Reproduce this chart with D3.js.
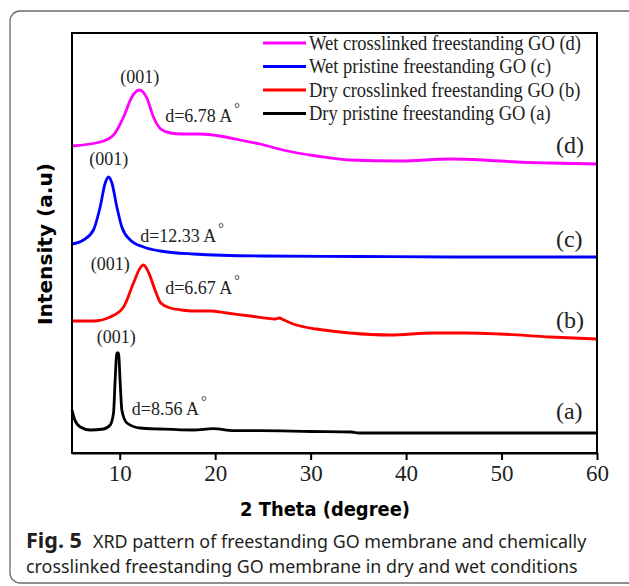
<!DOCTYPE html>
<html>
<head>
<meta charset="utf-8">
<script src="https://cdn.jsdelivr.net/npm/d3@7/dist/d3.min.js"></script>
<style>
body{margin:0;background:#fff}
</style>
</head>
<body>
<script>
// 2 theta (degree) and intensity (a.u., offset per curve)
var thetaA=[5.0,5.3,5.86,6.9,8.3,9.0,9.35,9.52,9.7,9.87,10.05,10.22,10.75,12.14,14.24,17.7,19.8,21.9,24.7,30,34.3,35,40,50,60]
var intA=[43,33,26,23,24,28,40,73,100,100,70,43,30,25,24,23,24.3,22.3,22.3,21.5,21,20,20,20,20]

var thetaB=[5,7.25,9,10.4,11.44,12.14,12.5,13.0,13.7,14.3,15.3,16.5,17.7,19.5,21.2,23.66,26.3,26.7,27.2,28.5,30.6,34.1,38.3,42.8,46.3,49.8,55.1,60]
var intB=[132,132,136,146,170,185,188,181,163,150,145,143,142,142,140,137,134,135,133,128,124,120,118,120,120,119,116,114]

var thetaC=[5,6.2,7.25,7.95,8.48,8.82,9.18,9.7,10.22,11.1,12.5,14.24,17.7,24.7,35,45,60]
var intC=[209,213,223,246,270,276,270,246,226,213,206,202,199,197,196.5,196,196]

var thetaD=[5,7.95,9.35,10.4,11.27,12.04,12.84,13.53,14.3,15.3,16.5,18.4,20.5,22.6,24.7,27.1,30.6,34.1,39.4,44.6,48.1,51.6,55.1,60]
var intD=[307,311,318,336,356,363,355,336,324,320,319,319,317,313,309,303,297,293,292,294,293,291,290,289]

var xTicks=[10,20,30,40,50,60]
var legendNames=["Wet crosslinked freestanding GO (d)","Wet pristine freestanding GO (c)","Dry crosslinked freestanding GO (b)","Dry pristine freestanding GO (a)"]
var curveTags=["(d)","(c)","(b)","(a)"]
var peakLabels=["(001)","(001)","(001)","(001)"]
var dLabels=["d=6.78 A","d=12.33 A","d=6.67 A","d=8.56 A"]
// label anchor points in data units [theta, intensity]
var peakPos=[[12.1,370],[8.84,288],[9.0,183],[9.63,110]]
var dPos=[[14.76,331],[12.14,211],[14.76,159],[11.27,38]]
var tagPos=[[55.7,300],[55.7,206],[55.7,125],[55.7,34]]

var colors=["#ff00ff","#0000ff","#ff0000","#000000"]

var width=629, height=586
var padding=[72,32,33,133] // left, right, top, bottom

var svg=d3.select("body").append("svg")
	.attr("width",width)
	.attr("height",height)

// outer rounded frame
svg.append("rect")
	.attr("x",10).attr("y",11)
	.attr("width",640).attr("height",572)
	.attr("rx",10)
	.attr("fill","none")
	.attr("stroke","#6b6b6b")
	.attr("stroke-width",1.3)

var scaleX=d3.scaleLinear().domain([5,60]).range([padding[0],width-padding[1]])
var scaleY=d3.scaleLinear().domain([0,420]).range([height-padding[3],padding[2]])

var series=[
	{theta:thetaD,val:intD},
	{theta:thetaC,val:intC},
	{theta:thetaB,val:intB},
	{theta:thetaA,val:intA}
]

var line=d3.line()
	.x(function(d){return scaleX(d[0])})
	.y(function(d){return scaleY(d[1])})
	.curve(d3.curveMonotoneX)

svg.append("g").selectAll("path")
	.data(series)
	.enter()
	.append("path")
	.attr("d",function(s){return line(d3.zip(s.theta,s.val))})
	.attr("fill","none")
	.attr("stroke",function(s,i){return colors[i]})
	.attr("stroke-width",2.8)
	.attr("stroke-linejoin","round")

// frame
svg.append("rect")
	.attr("x",scaleX(5)).attr("y",scaleY(420))
	.attr("width",scaleX(60)-scaleX(5))
	.attr("height",scaleY(0)-scaleY(420))
	.attr("fill","none")
	.attr("stroke","#000")
	.attr("stroke-width",2)

var serif="'Liberation Serif','Times New Roman',serif"

var xAxis=d3.axisBottom(scaleX).tickValues(xTicks).tickSize(7).tickSizeOuter(0).tickPadding(5)
var gx=svg.append("g")
	.attr("class","x axis")
	.attr("transform","translate(0,"+scaleY(0)+")")
	.call(xAxis)
gx.attr("font-family",serif).attr("font-size",23)
gx.select(".domain").attr("stroke-width",2)
gx.selectAll(".tick line").attr("stroke-width",2)
gx.selectAll(".tick text").attr("fill","#222")

// annotations
svg.append("g").selectAll("text")
	.data(peakLabels)
	.enter().append("text")
	.attr("x",function(d,i){return scaleX(peakPos[i][0])})
	.attr("y",function(d,i){return scaleY(peakPos[i][1])})
	.attr("text-anchor","middle")
	.attr("font-family",serif)
	.attr("font-size",18)
	.attr("fill","#222")
	.text(function(d){return d})

var dl=svg.append("g").selectAll("text")
	.data(dLabels)
	.enter().append("text")
	.attr("x",function(d,i){return scaleX(dPos[i][0])})
	.attr("y",function(d,i){return scaleY(dPos[i][1])})
	.attr("font-family",serif)
	.attr("font-size",18)
	.attr("fill","#222")
dl.append("tspan").text(function(d){return d})
dl.append("tspan").attr("dx",2).attr("dy",-9).attr("font-size",14).text("°")

svg.append("g").selectAll("text")
	.data(curveTags)
	.enter().append("text")
	.attr("x",function(d,i){return scaleX(tagPos[i][0])})
	.attr("y",function(d,i){return scaleY(tagPos[i][1])})
	.attr("font-family",serif)
	.attr("font-size",24)
	.attr("fill","#222")
	.text(function(d){return d})

// legend (reference font is a narrow Times, so squeeze to the same width)
var leg=svg.append("g").selectAll("g")
	.data(legendNames)
	.enter().append("g")
	.attr("transform",function(d,i){return "translate(263,"+(43+i*23.5)+")"})
leg.append("line")
	.attr("x1",0).attr("x2",43)
	.attr("stroke",function(d,i){return colors[i]})
	.attr("stroke-width",3)
var legText=leg.append("text")
	.attr("x",46).attr("y",6.5)
	.attr("font-family",serif)
	.attr("font-size",20)
	.attr("fill","#222")
	.text(function(d){return d})
var squeeze=272/legText.nodes()[0].getComputedTextLength()
legText.each(function(){
	var w=this.getComputedTextLength()
	d3.select(this).attr("textLength",w*squeeze).attr("lengthAdjust","spacingAndGlyphs")
})

// axis titles
svg.append("text")
	.attr("x",325).attr("y",516)
	.attr("text-anchor","middle")
	.attr("font-family","'DejaVu Sans',sans-serif")
	.attr("font-weight","bold")
	.attr("font-size",19)
	.attr("textLength",170)
	.attr("lengthAdjust","spacingAndGlyphs")
	.text("2 Theta (degree)")

svg.append("text")
	.attr("transform","translate(52,244) rotate(-90)")
	.attr("text-anchor","middle")
	.attr("font-family","'DejaVu Sans',sans-serif")
	.attr("font-weight","bold")
	.attr("font-size",19)
	.attr("textLength",162)
	.attr("lengthAdjust","spacingAndGlyphs")
	.text("Intensity (a.u)")

// caption: fit each line to its width in the reference by font size
var cap=svg.append("g")
	.attr("font-family","'Noto Sans','Open Sans',sans-serif")
	.attr("fill","#231f20")
function fitText(x,y,str,target,bold){
	var t=cap.append("text").attr("x",x).attr("y",y).attr("font-size",20).text(str)
	if(bold) t.attr("font-weight","bold")
	var w=t.node().getComputedTextLength()
	t.attr("font-size",20*target/w)
	return t
}
fitText(26,548,"Fig. 5",56,true)
fitText(93,548,"XRD pattern of freestanding GO membrane and chemically",494,false)
fitText(26,573,"crosslinked freestanding GO membrane in dry and wet conditions",552,false)
</script>
</body>
</html>
